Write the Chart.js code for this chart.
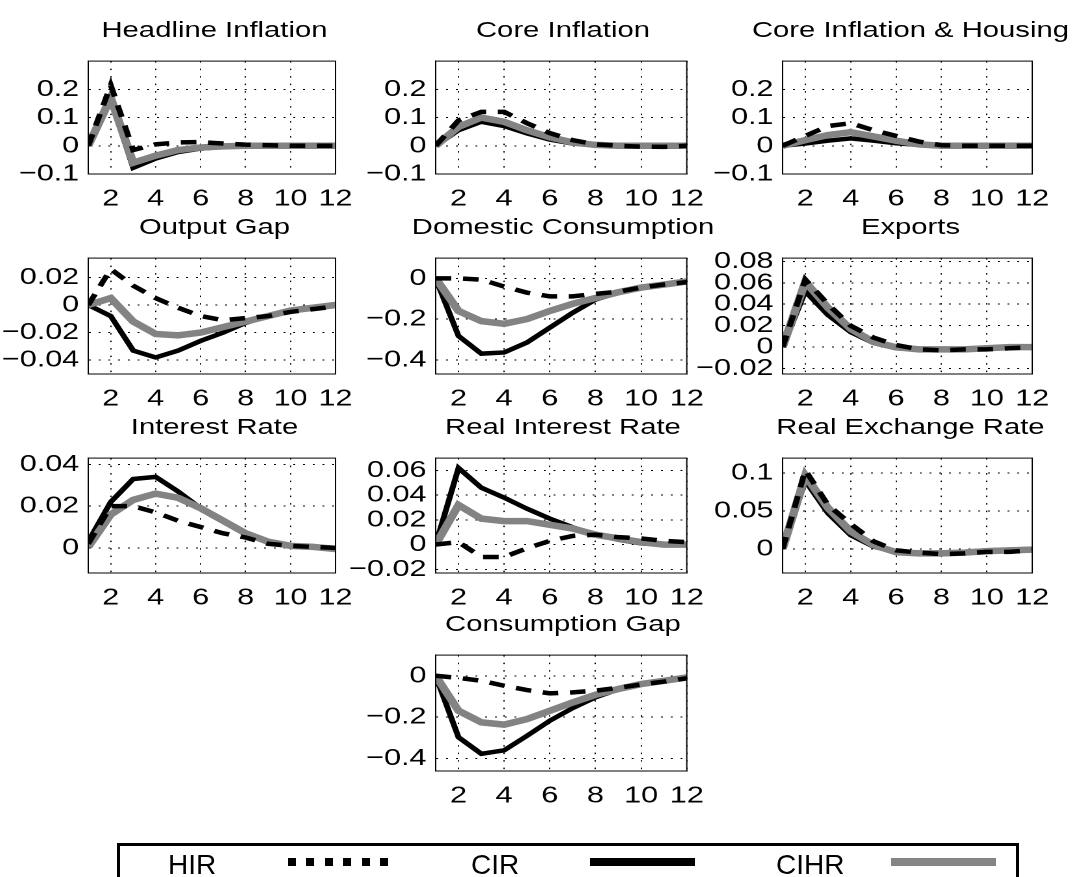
<!DOCTYPE html>
<html>
<head>
<meta charset="utf-8">
<script src="https://cdn.jsdelivr.net/npm/chart.js@4.4.1/dist/chart.umd.min.js"></script>
<style>
  body { margin:0; background:#fff; width:1073px; height:877px; overflow:hidden;
         font-family:"Liberation Sans", Arial, sans-serif; color:#000; }
  #stage { position:absolute; left:0; top:0; width:826px; height:877px;
           transform:scaleX(1.3); transform-origin:0 0; }
  .panel { position:absolute; }
  .ttl { position:absolute; font-size:22.5px; line-height:22.5px; white-space:nowrap;
         transform:translateX(-50%); }
  #legend { position:absolute; left:117px; top:843px; width:896px; height:60px;
            border:3px solid #000; border-bottom:none; }
  .lt { position:absolute; top:5px; font-size:28px; line-height:28px; }
  .ls { position:absolute; top:12px; height:8px; }
</style>
</head>
<body>
<div id="stage"></div>
<div id="legend">
  <span class="lt" style="left:48px">HIR</span>
  <span class="ls" style="left:168px;width:100px;background:repeating-linear-gradient(to right,#000 0 8px,transparent 8px 18.4px)"></span>
  <span class="lt" style="left:351px">CIR</span>
  <span class="ls" style="left:470px;width:105px;background:#000"></span>
  <span class="lt" style="left:656px">CIHR</span>
  <span class="ls" style="left:771px;width:105px;background:#858585"></span>
</div>
<script>
// horizon 1..12 and tick labels
var steps = [1, 2, 3, 4, 5, 6, 7, 8, 9, 10, 11, 12];
var xTicks = [2, 4, 6, 8, 10, 12];

// Headline Inflation
var hlHIR  = [0, 0.215, -0.015, 0.005, 0.012, 0.013, 0.008, 0.004, 0.002, 0, 0, 0];
var hlCIR  = [0, 0.165, -0.078, -0.045, -0.022, -0.01, -0.004, -0.001, 0, 0, 0, 0];
var hlCIHR = [0, 0.17, -0.06, -0.035, -0.015, -0.006, -0.002, 0, 0, 0, 0, 0];
// Core Inflation
var ciHIR  = [0, 0.09, 0.12, 0.12, 0.08, 0.045, 0.02, 0.005, 0, -0.003, -0.004, 0];
var ciCIR  = [0, 0.055, 0.085, 0.07, 0.044, 0.022, 0.008, 0.002, 0, 0, 0, 0];
var ciCIHR = [0, 0.067, 0.1, 0.085, 0.055, 0.03, 0.012, 0.003, 0, 0, 0, 0];
// Core Inflation & Housing
var chHIR  = [0, 0.035, 0.07, 0.08, 0.055, 0.035, 0.015, 0.002, 0, 0, 0, 0];
var chCIR  = [0, 0.008, 0.018, 0.026, 0.018, 0.009, 0.003, 0, 0, 0, 0, 0];
var chCIHR = [0, 0.02, 0.038, 0.048, 0.033, 0.018, 0.005, 0, 0, 0, 0, 0];
// Output Gap
var ogHIR  = [0, 0.026, 0.014, 0.005, -0.002, -0.008, -0.011, -0.0095, -0.008, -0.005, -0.003, -0.001];
var ogCIR  = [0, -0.008, -0.033, -0.038, -0.033, -0.026, -0.02, -0.013, -0.008, -0.004, -0.002, 0];
var ogCIHR = [0, 0.005, -0.012, -0.021, -0.022, -0.02, -0.016, -0.012, -0.008, -0.004, -0.002, 0];
// Domestic Consumption
var dcHIR  = [0, 0, -0.006, -0.04, -0.07, -0.088, -0.088, -0.076, -0.065, -0.045, -0.03, -0.018];
var dcCIR  = [0, -0.283, -0.37, -0.364, -0.315, -0.242, -0.169, -0.104, -0.07, -0.045, -0.03, -0.015];
var dcCIHR = [0, -0.16, -0.21, -0.223, -0.2, -0.16, -0.125, -0.096, -0.068, -0.045, -0.03, -0.015];
// Exports
var exHIR  = [0, 0.063, 0.04, 0.02, 0.009, 0.002, -0.002, -0.003, -0.002, -0.002, -0.001, 0];
var exCIR  = [0, 0.052, 0.03, 0.014, 0.004, -0.001, -0.002, -0.002, -0.002, -0.001, 0, 0];
var exCIHR = [0, 0.061, 0.0367, 0.017, 0.005, 0, -0.002, -0.002, -0.002, -0.001, 0, 0];
// Interest Rate
var irHIR  = [0.002, 0.02, 0.02, 0.017, 0.013, 0.01, 0.007, 0.005, 0.002, 0.001, 0.0005, 0];
var irCIR  = [0.003, 0.022, 0.033, 0.034, 0.027, 0.019, 0.013, 0.007, 0.003, 0.001, 0.0005, 0];
var irCIHR = [0.0005, 0.016, 0.023, 0.026, 0.024, 0.019, 0.013, 0.007, 0.003, 0.001, 0.0005, -0.0005];
// Real Interest Rate
var rrHIR  = [0, 0.002, -0.01, -0.01, -0.003, 0.003, 0.007, 0.008, 0.006, 0.005, 0.003, 0.002];
var rrCIR  = [0, 0.062, 0.046, 0.038, 0.029, 0.021, 0.014, 0.008, 0.004, 0.001, 0, 0];
var rrCIHR = [0, 0.032, 0.021, 0.019, 0.019, 0.016, 0.013, 0.008, 0.005, 0.002, 0, 0];
// Real Exchange Rate
var reHIR  = [0, 0.104, 0.058, 0.033, 0.01, -0.002, -0.005, -0.007, -0.006, -0.004, -0.004, -0.002];
var reCIR  = [0, 0.09, 0.047, 0.018, 0.003, -0.004, -0.005, -0.005, -0.004, -0.002, -0.001, 0];
var reCIHR = [0, 0.097, 0.054, 0.023, 0.005, -0.0045, -0.006, -0.006, -0.005, -0.003, -0.002, -0.001];
// Consumption Gap
var cgHIR  = [0, -0.01, -0.024, -0.048, -0.069, -0.085, -0.08, -0.072, -0.058, -0.042, -0.028, -0.012];
var cgCIR  = [0, -0.297, -0.377, -0.36, -0.29, -0.217, -0.156, -0.104, -0.066, -0.04, -0.024, -0.008];
var cgCIHR = [0, -0.169, -0.225, -0.236, -0.209, -0.169, -0.129, -0.092, -0.064, -0.04, -0.024, -0.008];

// y tick labels
var infTicks = [-0.1, 0, 0.1, 0.2];
var ogTicks = [-0.04, -0.02, 0, 0.02];
var consTicks = [-0.4, -0.2, 0];
var exTicks = [-0.02, 0, 0.02, 0.04, 0.06, 0.08];
var irTicks = [0, 0.02, 0.04];
var rrTicks = [-0.02, 0, 0.02, 0.04, 0.06];
var reTicks = [0, 0.05, 0.1];

// layout of the figure (reference pixels), stage is stretched by K
var K = 1.3;
var colX = [[88, 341], [435, 691], [783, 1038]];
var rowY = [[60, 174], [257, 374], [457, 573], [654, 771]];

var panels = [
  { title: 'Headline Inflation', c: 0, r: 0, s: [hlHIR, hlCIR, hlCIHR], min: -0.1, max: 0.3, ticks: infTicks },
  { title: 'Core Inflation', c: 1, r: 0, s: [ciHIR, ciCIR, ciCIHR], min: -0.1, max: 0.3, ticks: infTicks },
  { title: 'Core Inflation & Housing', c: 2, r: 0, s: [chHIR, chCIR, chCIHR], min: -0.1, max: 0.3, ticks: infTicks },
  { title: 'Output Gap', c: 0, r: 1, s: [ogHIR, ogCIR, ogCIHR], min: -0.05, max: 0.034, ticks: ogTicks },
  { title: 'Domestic Consumption', c: 1, r: 1, s: [dcHIR, dcCIR, dcCIHR], min: -0.47, max: 0.1, ticks: consTicks },
  { title: 'Exports', c: 2, r: 1, s: [exHIR, exCIR, exCIHR], min: -0.025, max: 0.083, ticks: exTicks },
  { title: 'Interest Rate', c: 0, r: 2, s: [irHIR, irCIR, irCIHR], min: -0.012, max: 0.043, ticks: irTicks },
  { title: 'Real Interest Rate', c: 1, r: 2, s: [rrHIR, rrCIR, rrCIHR], min: -0.023, max: 0.07, ticks: rrTicks },
  { title: 'Real Exchange Rate', c: 2, r: 2, s: [reHIR, reCIR, reCIHR], min: -0.032, max: 0.12, ticks: reTicks },
  { title: 'Consumption Gap', c: 1, r: 3, s: [cgHIR, cgCIR, cgCIHR], min: -0.46, max: 0.1, ticks: consTicks }
];

var PADL = 70, PADT = 20, PADR = 20, PADB = 45;
var tickFont = { family: '"Liberation Sans", Arial, sans-serif', size: 23.5 };

// box round the plot area (matlab style)
var boxPlugin = {
  id: 'box',
  afterDraw: function(chart) {
    var a = chart.chartArea, ctx = chart.ctx;
    ctx.save();
    ctx.strokeStyle = '#000';
    ctx.lineWidth = 1;
    ctx.strokeRect(a.left, a.top, a.right - a.left, a.bottom - a.top);
    ctx.restore();
  }
};

function pts(arr) {
  return steps.map(function(s, i) { return { x: s, y: arr[i] }; });
}

function fmt(v) {
  return (v < 0 ? '\u2212' : '') + String(Math.abs(v));
}

var stage = document.getElementById('stage');

panels.forEach(function(p) {
  var L = colX[p.c][0] / K, R = colX[p.c][1] / K;
  var T = rowY[p.r][0], B = rowY[p.r][1];

  var t = document.createElement('div');
  t.className = 'ttl';
  t.textContent = p.title;
  t.style.left = ((L + R) / 2) + 'px';
  t.style.top = (T - 41) + 'px';
  stage.appendChild(t);

  var wrap = document.createElement('div');
  wrap.className = 'panel';
  wrap.style.left = (L - PADL) + 'px';
  wrap.style.top = (T - PADT) + 'px';
  wrap.style.width = (R - L + PADL + PADR) + 'px';
  wrap.style.height = (B - T + PADT + PADB) + 'px';
  var cv = document.createElement('canvas');
  wrap.appendChild(cv);
  stage.appendChild(wrap);

  var yt = p.ticks;
  new Chart(cv, {
    type: 'line',
    data: {
      datasets: [
        { label: 'HIR', data: pts(p.s[0]), borderColor: '#000', borderWidth: 4.5, borderDash: [12, 9] },
        { label: 'CIHR', data: pts(p.s[2]), borderColor: '#838383', borderWidth: 6.5 },
        { label: 'CIR', data: pts(p.s[1]), borderColor: '#000', borderWidth: 4.5 }
      ]
    },
    options: {
      animation: false,
      responsive: true,
      maintainAspectRatio: false,
      devicePixelRatio: 2,
      layout: { padding: { left: 0, top: PADT, right: PADR, bottom: 0 } },
      elements: { point: { radius: 0 }, line: { tension: 0 } },
      plugins: { legend: { display: false }, tooltip: { enabled: false } },
      scales: {
        x: {
          type: 'linear', min: 1, max: 12,
          afterBuildTicks: function(ax) { ax.ticks = xTicks.map(function(v) { return { value: v }; }); },
          afterFit: function(ax) { ax.height = PADB; },
          ticks: { font: tickFont, color: '#000', padding: 11, autoSkip: false, maxRotation: 0 },
          grid: { color: '#000', lineWidth: 1, drawTicks: false },
          border: { display: true, color: '#000', width: 1, dash: [1.5, 6] }
        },
        y: {
          min: p.min, max: p.max,
          afterBuildTicks: function(ax) { ax.ticks = yt.map(function(v) { return { value: v }; }); },
          afterFit: function(ax) { ax.width = PADL; },
          ticks: { font: tickFont, color: '#000', padding: 7, autoSkip: false, callback: fmt },
          grid: { color: '#000', lineWidth: 1, drawTicks: false },
          border: { display: true, color: '#000', width: 1, dash: [1.5, 6] }
        }
      }
    },
    plugins: [boxPlugin]
  });
});
</script>
</body>
</html>
